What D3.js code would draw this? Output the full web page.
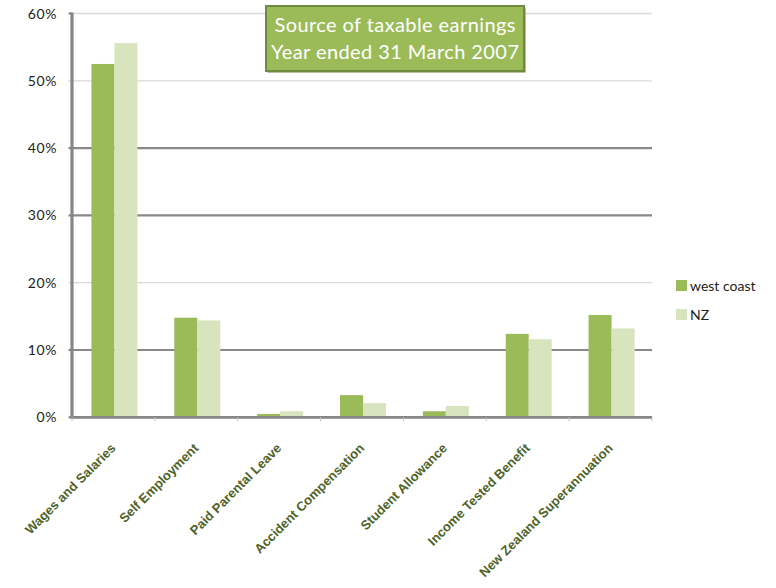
<!DOCTYPE html>
<html>
<head>
<meta charset="utf-8">
<script src="https://cdn.jsdelivr.net/npm/d3@7"></script>
<style>
  html, body { margin: 0; padding: 0; background: #fff; }
  svg { display: block; }
</style>
</head>
<body>
<svg id="chart" width="776" height="588"></svg>
<script>
const categories = ["Wages and Salaries", "Self Employment", "Paid Parental Leave", "Accident Compensation", "Student Allowance", "Income Tested Benefit", "New Zealand Superannuation"];
const seriesNames = ["west coast", "NZ"];
const westCoast = [0.525, 0.148, 0.005, 0.033, 0.009, 0.124, 0.152];
const nz = [0.556, 0.144, 0.009, 0.021, 0.017, 0.116, 0.132];
const yTicks = [0, 0.1, 0.2, 0.3, 0.4, 0.5, 0.6];
const yTickLabels = ["0%", "10%", "20%", "30%", "40%", "50%", "60%"];
const titleLines = ["Source of taxable earnings", "Year ended 31 March 2007"];

const colors = ["#9BBB59", "#D7E4BD"];
const svg = d3.select("#chart");

const pLeft = 72, pRight = 652, pTop = 13.5, pBottom = 417.3;
const x = d3.scaleBand().domain(categories).range([pLeft, pRight]).padding(0);
const x1 = d3.scaleBand().domain(seriesNames).range([-22, 24]).padding(0);
const y = d3.scaleLinear().domain([0, 0.6]).range([pBottom, pTop]);

// Gridlines
const darkTicks = new Set([0.1, 0.3, 0.4]);
svg.append("g").selectAll("line").data(yTicks.filter(d => d > 0)).join("line")
  .attr("x1", pLeft).attr("x2", pRight)
  .attr("y1", d => y(d)).attr("y2", d => y(d))
  .attr("stroke", d => darkTicks.has(d) ? "#898989" : "#D9D9D9")
  .attr("stroke-width", d => darkTicks.has(d) ? 2.2 : 1.3);

// left tick marks
svg.append("g").selectAll("line").data(yTicks).join("line")
  .attr("x1", 68.5).attr("x2", pLeft)
  .attr("y1", d => y(d)).attr("y2", d => y(d))
  .attr("stroke", d => (d === 0.2 || d === 0.5) ? "#D9D9D9" : "#898989")
  .attr("stroke-width", d => (d === 0.2 || d === 0.5) ? 1.3 : 2.2);

// Bars
const data = categories.map((c, i) => ({ c, vals: [westCoast[i], nz[i]] }));
const groups = svg.append("g").selectAll("g").data(data).join("g")
  .attr("transform", d => `translate(${x(d.c) + x.bandwidth() / 2},0)`);
groups.selectAll("rect").data(d => d.vals.map((v, j) => ({ s: seriesNames[j], v, j }))).join("rect")
  .attr("x", d => x1(d.s))
  .attr("width", x1.bandwidth())
  .attr("y", d => y(d.v))
  .attr("height", d => y(0) - y(d.v))
  .attr("fill", d => colors[d.j]);

// Y tick labels
svg.append("g").selectAll("text").data(yTicks).join("text")
  .attr("x", 57).attr("y", d => y(d) + 5)
  .attr("text-anchor", "end")
  .attr("font-family", "Lato, 'Open Sans', sans-serif")
  .attr("font-size", 14)
  .attr("letter-spacing", 0.6)
  .attr("fill", "#222")
  .text((d, i) => yTickLabels[i]);

// Axes lines
svg.append("line").attr("x1", pLeft).attr("x2", pLeft).attr("y1", pTop - 1).attr("y2", pBottom + 1.5)
  .attr("stroke", "#868686").attr("stroke-width", 3.2);
svg.append("line").attr("x1", pLeft - 1.5).attr("x2", pRight).attr("y1", pBottom).attr("y2", pBottom)
  .attr("stroke", "#868686").attr("stroke-width", 2.8);

// bottom tick marks at category boundaries
const bounds = categories.map(c => x(c)).concat([pRight]);
svg.append("g").selectAll("line").data(bounds).join("line")
  .attr("x1", d => d).attr("x2", d => d)
  .attr("y1", pBottom).attr("y2", pBottom + 4)
  .attr("stroke", "#C8C8C8").attr("stroke-width", 1);

// Category labels rotated
svg.append("g").selectAll("text").data(categories).join("text")
  .attr("transform", d => `translate(${x(d) + x.bandwidth() / 2 + 3},449) rotate(-45)`)
  .attr("text-anchor", "end")
  .attr("font-family", "'Liberation Sans', Arial, sans-serif")
  .attr("font-weight", "bold")
  .attr("font-size", 13)
  .attr("fill", "#4F6228")
  .text(d => d);

// Title box
const tb = { x: 266, y: 6, w: 258, h: 65 };
svg.append("rect").attr("x", tb.x + 1.5).attr("y", tb.y + 1.5).attr("width", tb.w).attr("height", tb.h)
  .attr("fill", "#6E8638");
svg.append("rect").attr("x", tb.x).attr("y", tb.y).attr("width", tb.w).attr("height", tb.h)
  .attr("fill", "#9BBB59").attr("stroke", "#71893F").attr("stroke-width", 2);
svg.append("g").selectAll("text").data(titleLines).join("text")
  .attr("x", 395).attr("y", (d, i) => 32 + i * 26.5)
  .attr("text-anchor", "middle")
  .attr("font-family", "Lato, 'Open Sans', sans-serif")
  .attr("font-size", 20)
  .attr("fill", "#fff")
  .attr("textLength", (d, i) => i === 0 ? 241 : 248)
  .attr("lengthAdjust", "spacing")
  .text(d => d);

// Legend
const legend = svg.append("g").selectAll("g").data(seriesNames).join("g")
  .attr("transform", (d, i) => `translate(676,${280 + i * 29})`);
legend.append("rect").attr("width", 11).attr("height", 11).attr("fill", (d, i) => colors[i]);
legend.append("text").attr("x", 14).attr("y", 10.5)
  .attr("font-family", "Lato, 'Open Sans', sans-serif")
  .attr("font-size", 14)
  .attr("fill", "#222")
  .text(d => d);
</script>
</body>
</html>
